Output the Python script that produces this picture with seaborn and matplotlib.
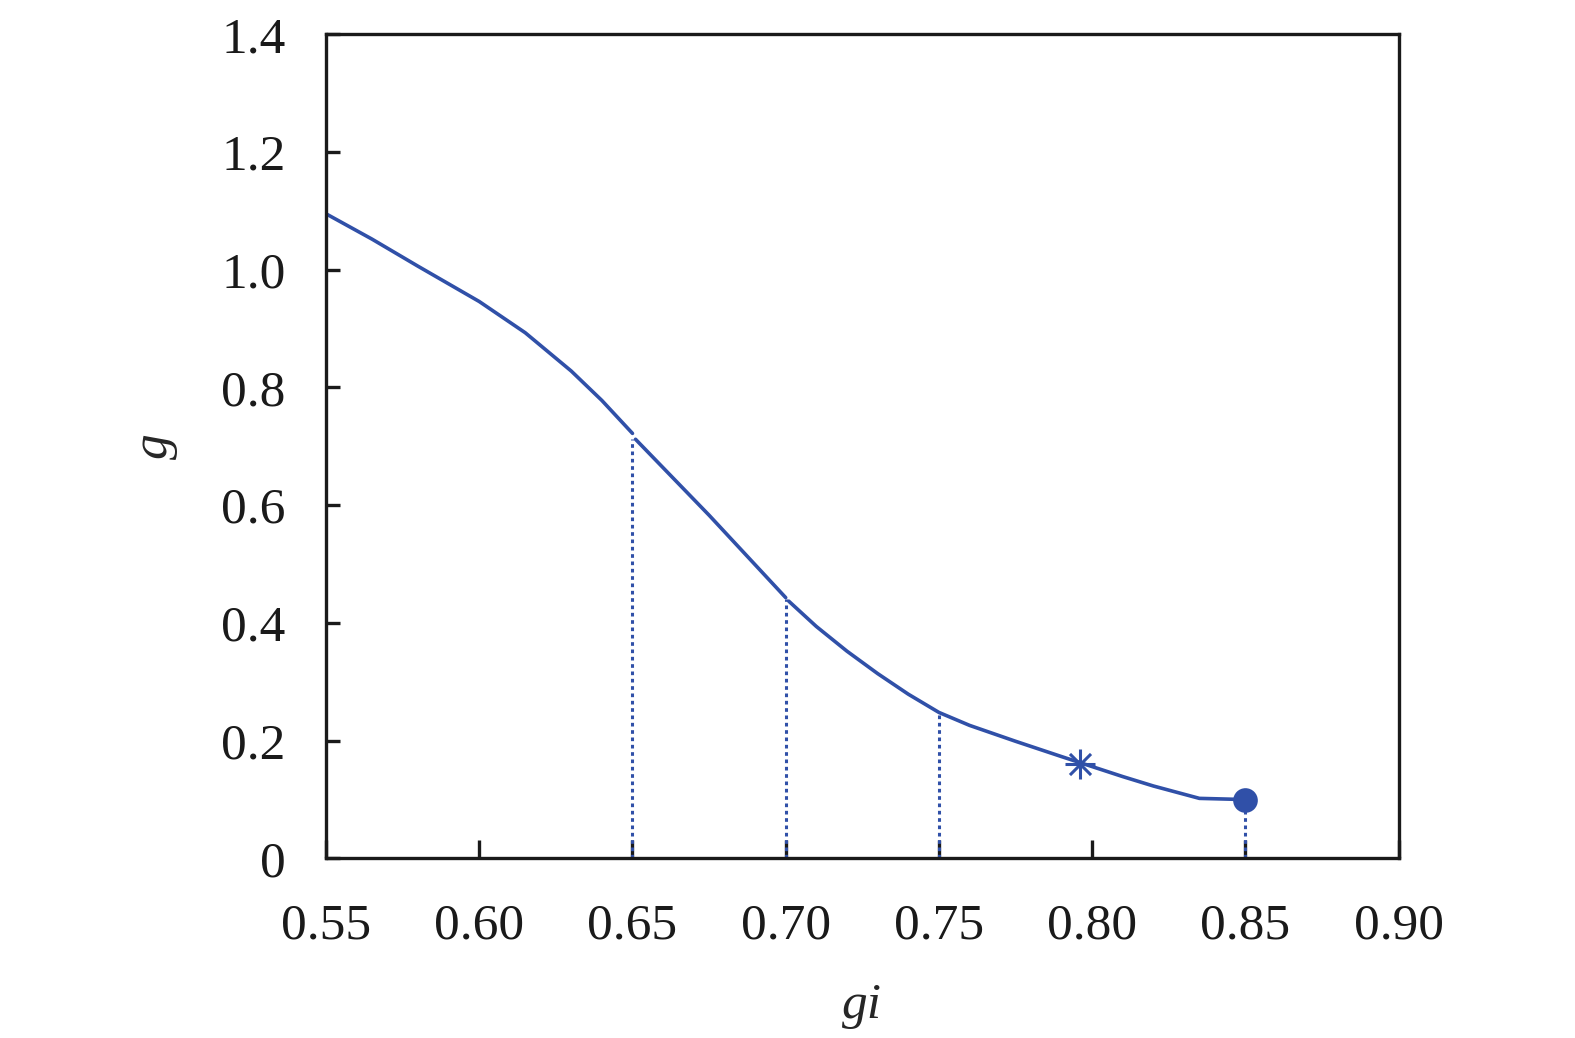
import numpy as np
import pandas as pd
import matplotlib
matplotlib.use('Agg')
import matplotlib.pyplot as plt
from matplotlib import font_manager as fm
import seaborn as sns

# curve values, in three pieces
gi_seg1 = [0.550, 0.565, 0.580, 0.600, 0.615, 0.630, 0.640, 0.650]
g_seg1 = [1.095, 1.052, 1.006, 0.946, 0.893, 0.828, 0.778, 0.722]
gi_seg2 = [0.651, 0.675, 0.700]
g_seg2 = [0.712, 0.583, 0.443]
gi_seg3 = [0.701, 0.710, 0.720, 0.730, 0.740, 0.750, 0.760, 0.775, 0.790, 0.800, 0.810, 0.820, 0.835, 0.850]
g_seg3 = [0.437, 0.394, 0.352, 0.314, 0.279, 0.248, 0.226, 0.199, 0.173, 0.156, 0.139, 0.123, 0.102, 0.100]

# dotted drop lines
drop_gi = [0.65, 0.70, 0.75, 0.85]
drop_g = [0.712, 0.440, 0.245, 0.100]

# marked points
star_gi, star_g = [0.796], [0.160]
dot_gi, dot_g = [0.850], [0.100]

sns.set_style('white')

# make sure a Times-like serif is picked up
serif = 'DejaVu Serif'
for f in fm.findSystemFonts():
    name = f.split('/')[-1]
    if name.startswith('LiberationSerif') or name.startswith('Tinos'):
        fm.fontManager.addfont(f)
for cand in ['Liberation Serif', 'Tinos', 'Times New Roman']:
    try:
        fm.findfont(fm.FontProperties(family=cand), fallback_to_default=False)
        serif = cand
        break
    except Exception:
        pass
plt.rcParams['font.family'] = [serif, 'DejaVu Serif']

color = '#3050A8'

fig = plt.figure(figsize=(15.75, 10.38), dpi=100)
ax = fig.add_axes([0.207, 0.173, 0.681, 0.794])

for xs, ys in [(gi_seg1, g_seg1), (gi_seg2, g_seg2), (gi_seg3, g_seg3)]:
    df = pd.DataFrame({'gi': xs, 'g': ys})
    sns.lineplot(data=df, x='gi', y='g', ax=ax, color=color, linewidth=2.6, sort=False)

ax.vlines(drop_gi, 0, drop_g, colors=color, linestyles=(0, (1.2, 1.2)), linewidth=2.2)

sns.scatterplot(x=star_gi, y=star_g, ax=ax, marker='+', s=450, color=color, linewidth=2.2)
sns.scatterplot(x=star_gi, y=star_g, ax=ax, marker='x', s=230, color=color, linewidth=2.2)
sns.scatterplot(x=dot_gi, y=dot_g, ax=ax, marker='o', s=270, color=color, edgecolor=color, zorder=5)

ax.set_xlim(0.55, 0.90)
ax.set_ylim(0, 1.4)
ax.set_xticks(np.arange(0.55, 0.901, 0.05))
ax.set_xticklabels(['0.55', '0.60', '0.65', '0.70', '0.75', '0.80', '0.85', '0.90'])
ax.set_yticks(np.arange(0, 1.41, 0.2))
ax.set_yticklabels(['0', '0.2', '0.4', '0.6', '0.8', '1.0', '1.2', '1.4'])

for s in ax.spines.values():
    s.set_color('#1a1a1a')
    s.set_linewidth(2.4)

ax.tick_params(axis='x', direction='in', length=13, width=2.4, pad=32, labelsize=37,
               bottom=True, top=False, colors='#1a1a1a')
ax.tick_params(axis='y', direction='in', length=10, width=2.4, pad=29, labelsize=37,
               left=True, right=False, colors='#1a1a1a')

ax.set_xlabel('gi', fontsize=37, style='italic', labelpad=24)
ax.set_ylabel('g', fontsize=37, style='italic', labelpad=31)

fig.savefig('out.png', dpi=100)
